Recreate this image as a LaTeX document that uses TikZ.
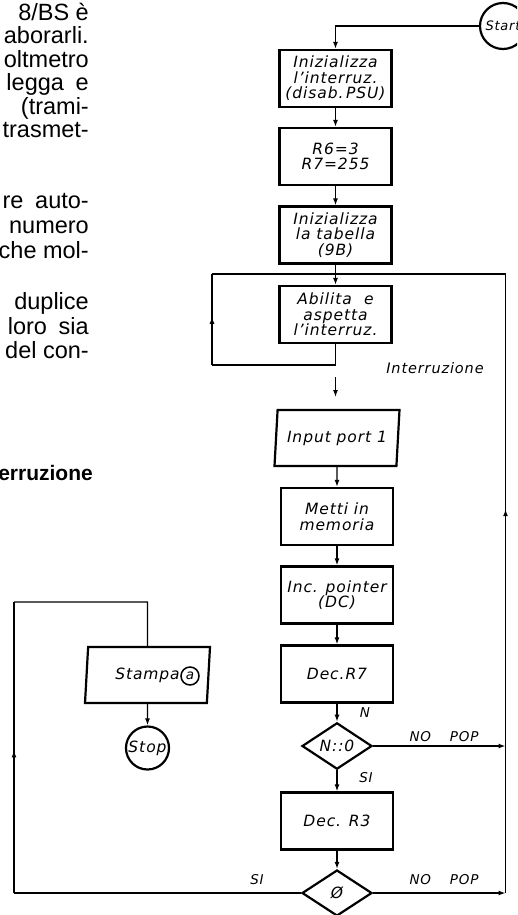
\documentclass[tikz,border=0pt]{standalone}
\usepackage{fontspec}
\setmainfont{Liberation Sans}
\newfontfamily\flowfamily{DejaVu Sans}[LetterSpace=6]
\newcommand{\flowtext}{\flowfamily\itshape\fontsize{15.5}{15.5}\selectfont}
\newcommand{\flowsmall}{\flowfamily\itshape\fontsize{13.5}{14}\selectfont}
\newcommand{\bodytext}{\fontsize{23.5}{23.5}\selectfont}
\usetikzlibrary{positioning, arrows.meta, shapes.geometric, decorations.markings}

\tikzset{
  col/.style={anchor=base east, inner sep=0pt, font=\bodytext},
  head/.style={anchor=base east, inner sep=0pt, font=\fontsize{21}{21}\selectfont\bfseries},
  box/.style={draw, line width=2.2pt, minimum width=112pt, minimum height=57pt,
    inner sep=0pt, align=center, font=\flowtext},
  iobox/.style={trapezium, trapezium left angle=78, trapezium right angle=102,
    trapezium stretches body, draw, line width=2.2pt, minimum width=125pt,
    minimum height=56pt, inner sep=0pt, font=\flowtext},
  test/.style={diamond, draw, line width=2.2pt, minimum width=70pt,
    minimum height=46pt, inner sep=0pt, font=\flowtext},
  term/.style={circle, draw, line width=2.2pt, minimum size=46pt, inner sep=0pt,
    font=\flowtext},
  atring/.style={circle, draw, line width=1.5pt, minimum size=18pt, inner sep=0pt,
    font=\flowsmall},
  lbl/.style={inner sep=0pt, font=\flowfamily\itshape\fontsize{14.5}{15}\selectfont},
  small/.style={inner sep=0pt, font=\flowsmall},
  link/.style={line width=1.3pt},
  flow/.style={line width=1.3pt, -{Latex[length=7pt,width=5pt]}},
  midarrow/.style={postaction={decorate}, decoration={markings,
    mark=at position #1 with {\arrow{Latex[length=7pt,width=5pt]}}}}
}

\begin{document}
\begin{tikzpicture}[x=1pt, y=-1pt]
  \useasboundingbox (0,0) rectangle (517,915);
  \clip (0,0) rectangle (517,915);

  % text column, cut at the left edge
  \node[col] (t1) at (89,21) {8/BS è};
  \node[col] (t2) at (89,44) {aborarli.};
  \node[col] (t3) at (89,68) {oltmetro};
  \node[col] (t4) at (89,91) {legga\hspace{0.5em}e};
  \node[col] (t5) at (89,114) {(trami-};
  \node[col] (t6) at (89,137) {trasmet-};
  \node[col] (t7) at (89,208) {re\hspace{0.5em}auto-};
  \node[col] (t8) at (89,233) {numero};
  \node[col] (t9) at (89,258) {che mol-};
  \node[col] (t10) at (89,309) {duplice};
  \node[col] (t11) at (89,334) {loro\hspace{0.5em}sia};
  \node[col] (t12) at (89,358) {del con-};
  \node[head] (hd) at (93,480) {erruzione};

  % main column
  \node[term, font=\flowfamily\itshape\fontsize{13}{14}\selectfont] (start) at (503,26) {Start\hspace{8pt}};
  \node[box] (b1) at (335.5,78.5) {Inizializza\\l’interruz.\\(disab.\,PSU)};
  \node[box] (b2) at (335.5,156.5) {R6=3\\R7=255};
  \node[box] (b3) at (335.5,235) {Inizializza\\la tabella\\(9B)};
  \node[box] (b4) at (335.5,314.5) {Abilita\hspace{0.8em}e\\aspetta\\l’interruz.};
  \node[lbl] (irq) at (435,368) {Interruzione};
  \node[iobox] (in1) at (337,438) {Input port 1};
  \node[box] (b5) at (337,516.5) {Metti in\\memoria};
  \node[box] (b6) at (337,595) {Inc. pointer\\(DC)};
  \node[box] (b7) at (337,674) {Dec.R7};
  \node[test] (d1) at (337,746) {N::0};
  \node[box] (b8) at (337,821) {Dec. R3};
  \node[test] (d2) at (337,893) {Ø};

  % print and stop
  \node[iobox] (prt) at (147.5,675) {Stampa};
  \node[atring] (ata) at (190,676) {a};
  \node[term, minimum size=43pt] (stop) at (147.5,748) {Stop};

  % branch labels
  \node[small] (n1) at (365,713) {N};
  \node[small] (si1) at (366,778) {SI};
  \node[small] (np1) at (444,737) {NO\hspace{1.4em}POP};
  \node[small] (np2) at (444,880) {NO\hspace{1.4em}POP};
  \node[small] (si2) at (257,880) {SI};

  % corners
  \coordinate (join) at (335.5,274);
  \coordinate (railtop) at (505.5,274);
  \coordinate (railbot) at (505.5,893);
  \coordinate (waitlo) at (335.5,365);
  \coordinate (waitl1) at (212,365);
  \coordinate (waitl2) at (212,274);
  \coordinate (irqa) at (335.5,377);
  \coordinate (irqb) at (335.5,397);
  \coordinate (endl1) at (14,893);
  \coordinate (endl2) at (14,602);
  \coordinate (endl3) at (147.5,602);

  \draw[flow] (start.west) -| (b1.north);
  \draw[flow] (b1) -- (b2);
  \draw[flow] (b2) -- (b3);
  \draw[flow] (b3) -- (b4);
  \draw[link] (b4) -- (waitlo) -- (waitl1);
  \draw[link, midarrow=0.53] (waitl1) -- (waitl2);
  \draw[link] (waitl2) -- (join);
  \draw[flow] (irqa) -- (irqb);
  \draw[flow] (in1) -- (b5);
  \draw[flow] (b5) -- (b6);
  \draw[flow] (b6) -- (b7);
  \draw[flow] (b7) -- (d1);
  \draw[flow] (d1) -- (b8);
  \draw[flow] (b8) -- (d2);
  \draw[flow] (d1.east) -- (d1.east -| railtop);
  \draw[flow] (d2.east) -- (railbot);
  \draw[link, midarrow=0.62] (railbot) -- (railtop);
  \draw[link] (railtop) -- (join);
  \draw[link] (d2.west) -- (endl1);
  \draw[link, midarrow=0.49] (endl1) -- (endl2);
  \draw[link] (endl2) -- (endl3) -- (prt.north);
  \draw[flow] (prt) -- (stop);
\end{tikzpicture}
\end{document}
